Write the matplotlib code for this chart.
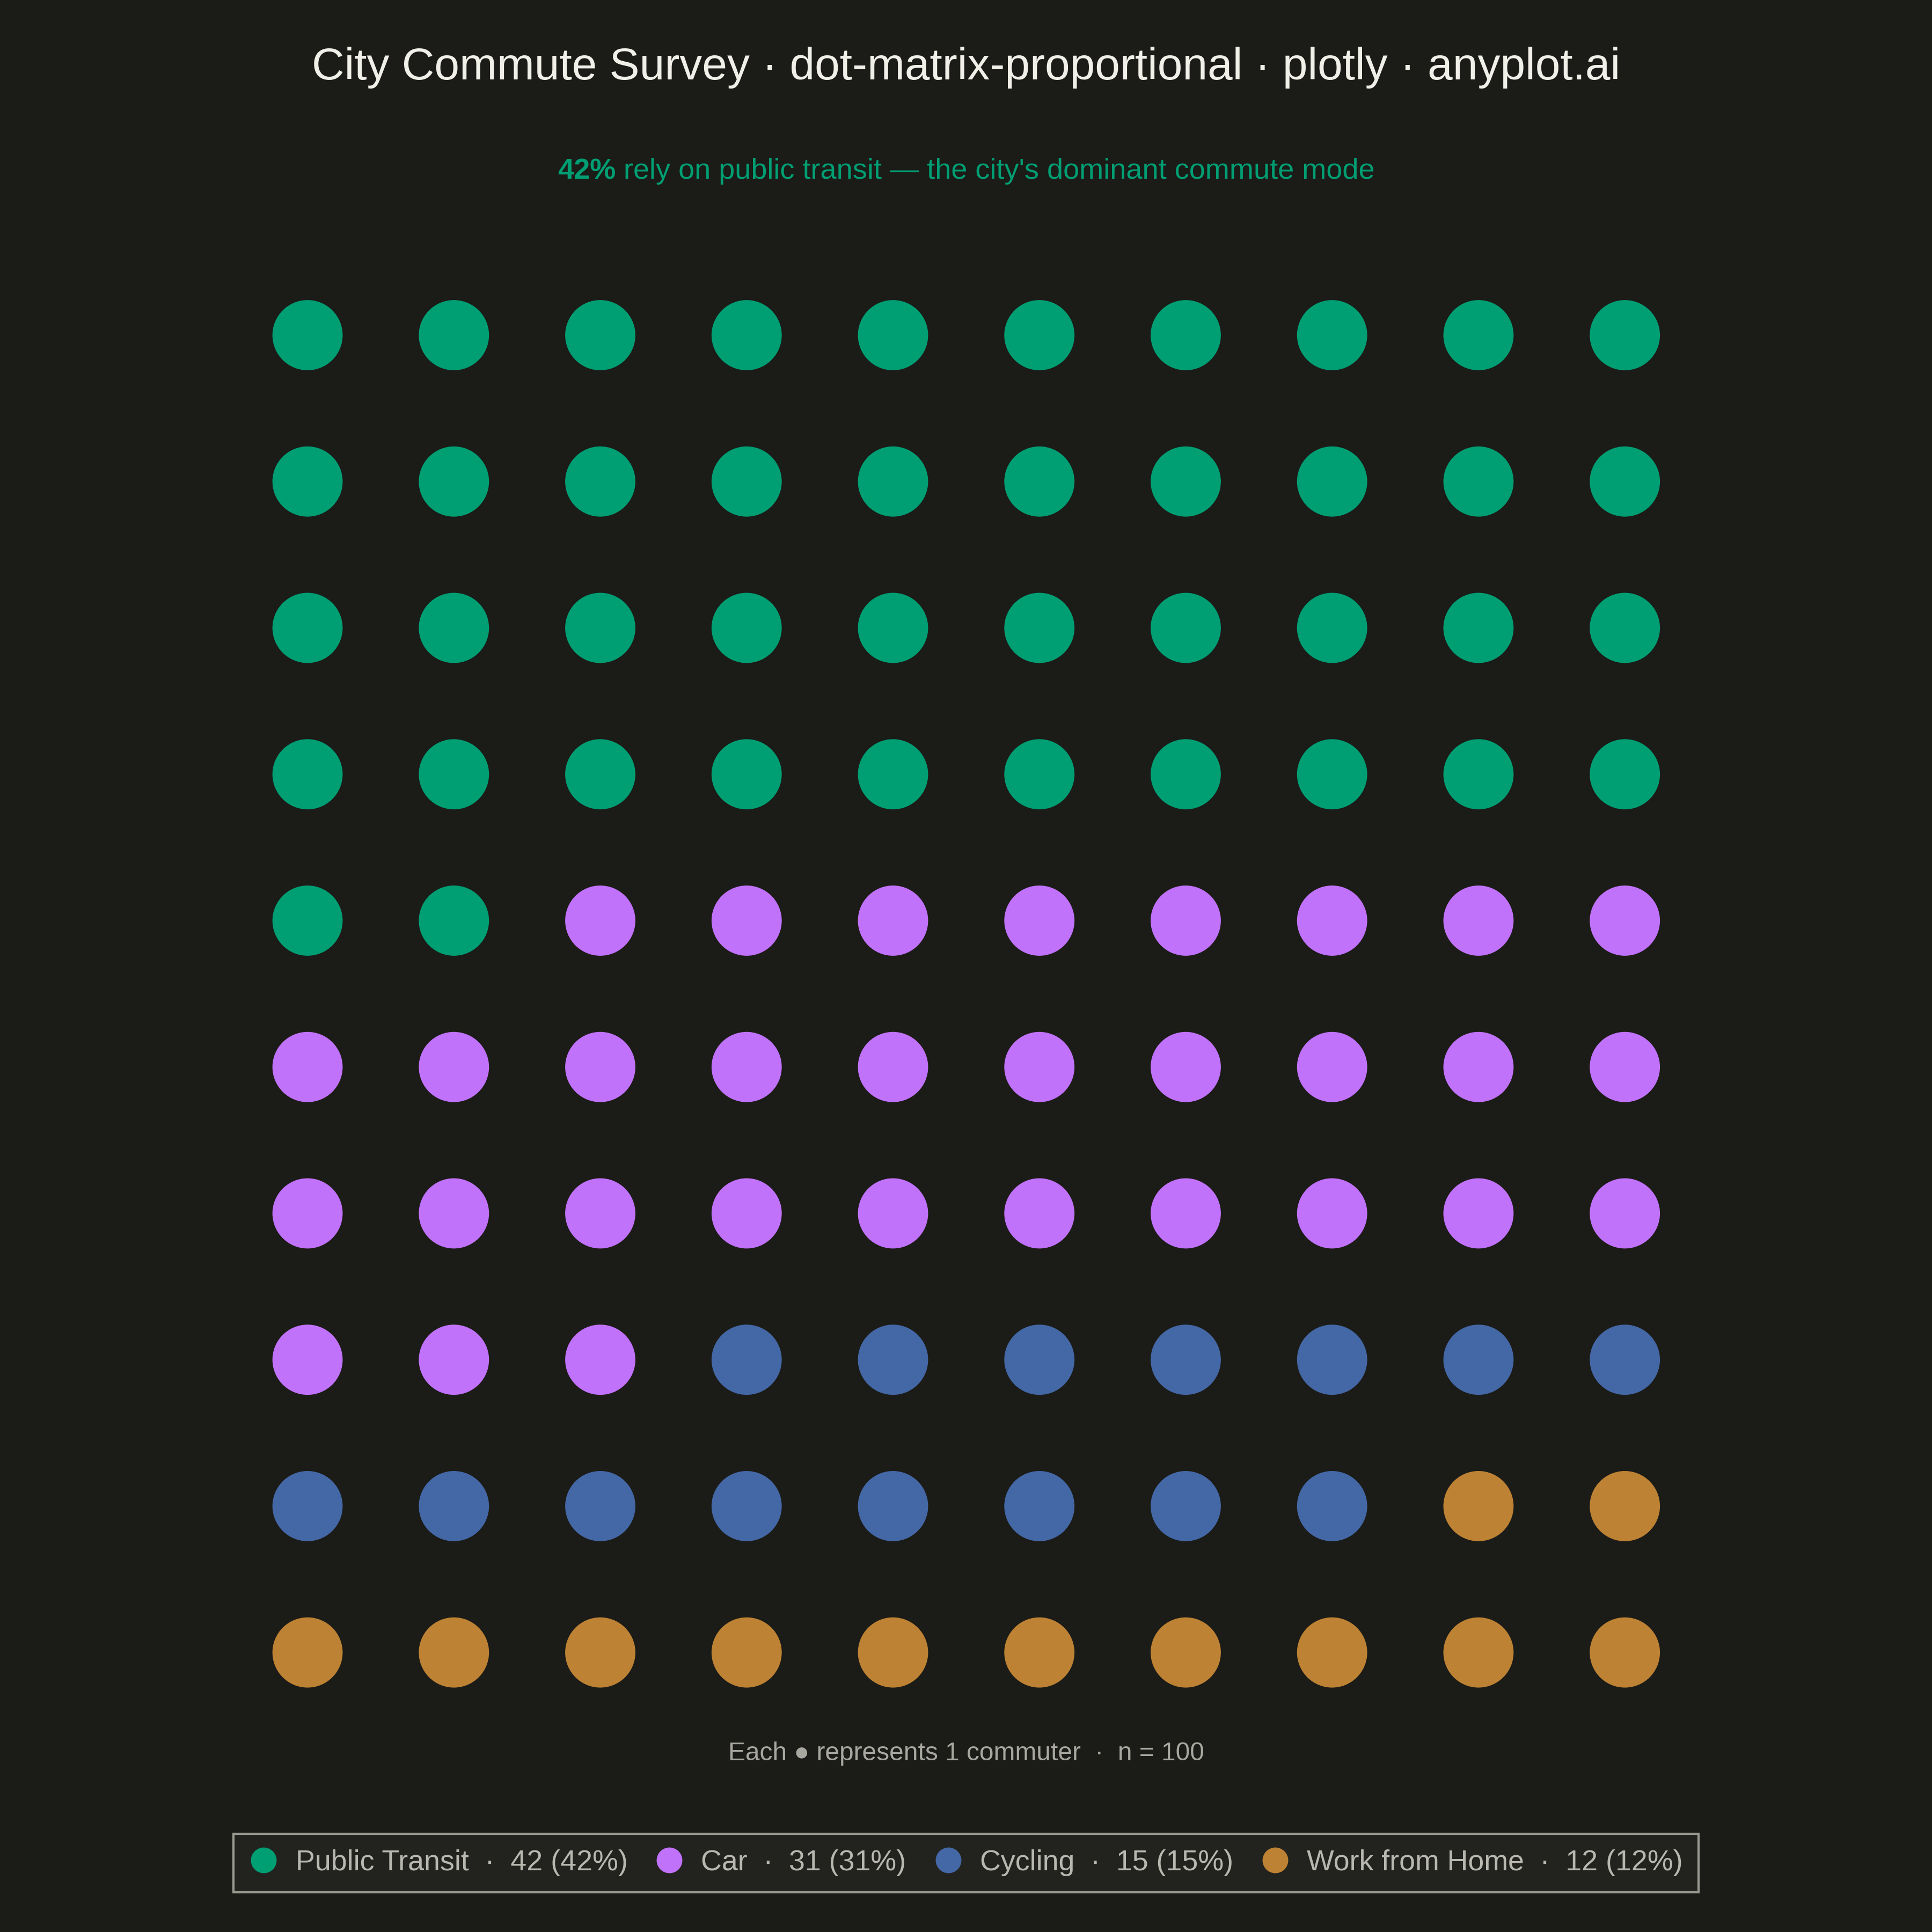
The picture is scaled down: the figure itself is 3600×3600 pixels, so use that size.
import matplotlib.pyplot as plt
from matplotlib.lines import Line2D

# survey data
modes = ["Public Transit", "Car", "Cycling", "Work from Home"]
counts = [42, 31, 15, 12]
colors = ["#009E73", "#C172FB", "#4467A5", "#BD8234"]
n_cols = 10
n_rows = 10

BG = "#1B1B17"
plt.rcParams['font.family'] = ['Liberation Sans', 'DejaVu Sans']


def main():
    fig = plt.figure(figsize=(12, 12), dpi=300, facecolor=BG)
    ax = fig.add_axes([0.1213, 0.1068, 0.7576, 0.7576])
    ax.set_facecolor(BG)

    # fill the grid row by row
    xs, ys, cs = [], [], []
    k = 0
    for mode, cnt, col in zip(modes, counts, colors):
        for _ in range(cnt):
            xs.append(k % n_cols)
            ys.append(k // n_cols)
            cs.append(col)
            k += 1
    ax.scatter(xs, ys, s=31.4 ** 2, c=cs, linewidths=0)
    ax.set_xlim(-0.5, n_cols - 0.5)
    ax.set_ylim(n_rows - 0.5, -0.5)
    ax.axis("off")

    fig.text(0.5, 0.965, "City Commute Survey · dot-matrix-proportional · plotly · anyplot.ai",
             ha="center", va="center", color="#F0EFE8", fontsize=20.15)

    # subtitle with bold share
    total = sum(counts)
    share = f"{round(100 * counts[0] / total)}%"
    rest = " rely on public transit — the city's dominant commute mode"
    t1 = fig.text(0.5, 0.9113, share, ha="left", va="center", color=colors[0],
                  fontsize=13, fontweight="bold")
    t2 = fig.text(0.5, 0.9113, rest, ha="left", va="center", color=colors[0], fontsize=13)
    fig.canvas.draw()
    r = fig.canvas.get_renderer()
    w1 = t1.get_window_extent(r).width / fig.bbox.width
    w2 = t2.get_window_extent(r).width / fig.bbox.width
    x0 = 0.5 - (w1 + w2) / 2
    t1.set_x(x0)
    t2.set_x(x0 + w1)

    fig.text(0.5, 0.0925, f"Each ● represents 1 commuter  ·  n = {total}",
             ha="center", va="center", color="#A8A8A0", fontsize=11.5)

    handles = [Line2D([], [], marker="o", linestyle="", markersize=11.5,
                      markerfacecolor=c, markeredgewidth=0) for c in colors]
    labels = [f"{m}  ·  {c} ({round(100 * c / total)}%)" for m, c in zip(modes, counts)]
    leg = fig.legend(handles, labels, loc="center", bbox_to_anchor=(0.5, 0.0358),
                     ncol=4, frameon=True, fontsize=12.9, labelcolor="#B8B8B0",
                     facecolor="#252521", edgecolor="#B8B8AE", fancybox=False,
                     handletextpad=0.6, columnspacing=0.95, borderpad=0.55,
                     handlelength=1.0, borderaxespad=0)
    leg.get_frame().set_linewidth(1.0)

    fig.savefig("out.png", facecolor=BG)


if __name__ == "__main__":
    main()
